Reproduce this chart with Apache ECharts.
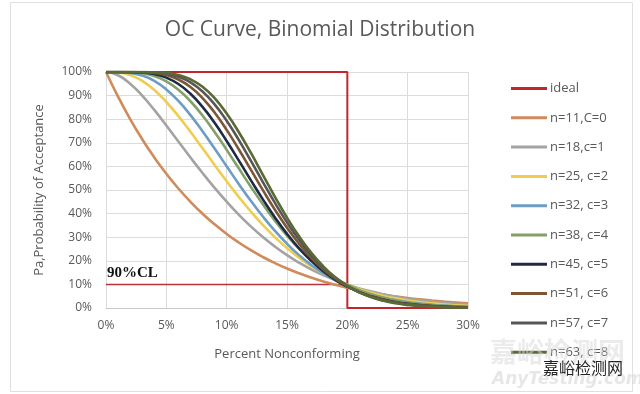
<!DOCTYPE html>
<html>
<head>
<meta charset="utf-8">
<script src="https://cdn.jsdelivr.net/npm/echarts@6/dist/echarts.min.js"></script>
<style>
html,body{margin:0;padding:0;background:#fff;}
#chart{width:640px;height:394px;}
</style>
</head>
<body>
<div id="chart"></div>
<script>
// Percent nonconforming (x, %)
var xs = [0,1,2,3,4,5,6,7,8,9,10,11,12,13,14,15,16,17,18,19,20,21,22,23,24,25,26,27,28,29,30];

// Ideal OC curve (step) and 90% CL line
var idealX = [0, 20, 20, 30];
var idealY = [100, 100, 0, 0];
var clX = [0, 20];
var clY = [10, 10];

// Probability of acceptance (%) for each plan
var n11c0 = [100,89.53,80.07,71.53,63.82,56.88,50.63,45.01,39.96,35.44,31.38,27.75,24.51,21.61,19.03,16.73,14.69,12.88,11.27,9.85,8.59,7.48,6.50,5.64,4.89,4.22,3.64,3.14,2.70,2.31,1.98];
var n18c1 = [100,98.62,95.05,89.97,83.93,77.35,70.55,63.77,57.19,50.91,45.03,39.58,34.60,30.08,26.03,22.40,19.20,16.38,13.91,11.76,9.91,8.31,6.94,5.77,4.78,3.95,3.24,2.65,2.16,1.76,1.42];
var n25c2 = [100,99.81,98.68,96.21,92.35,87.29,81.29,74.66,67.68,60.63,53.71,47.09,40.88,35.17,30.00,25.37,21.30,17.75,14.67,12.05,9.82,7.96,6.41,5.12,4.07,3.21,2.52,1.96,1.52,1.17,0.90];
var n32c3 = [100,99.97,99.63,98.51,96.23,92.62,87.72,81.71,74.89,67.56,60.03,52.58,45.44,38.77,32.67,27.21,22.41,18.27,14.73,11.77,9.31,7.30,5.67,4.36,3.33,2.52,1.89,1.40,1.03,0.76,0.55];
var n38c4 = [100,100,99.91,99.47,98.29,96.03,92.48,87.61,81.56,74.58,67.01,59.18,51.40,43.94,36.99,30.68,25.09,20.25,16.13,12.69,9.86,7.57,5.75,4.31,3.20,2.35,1.71,1.23,0.87,0.62,0.43];
var n45c5 = [100,100,99.97,99.78,99.13,97.61,94.90,90.77,85.24,78.48,70.77,62.55,54.18,46.03,38.37,31.42,25.28,20.01,15.58,11.94,9.02,6.71,4.93,3.57,2.55,1.79,1.25,0.86,0.58,0.39,0.26];
var n51c6 = [100,100,99.99,99.92,99.60,98.69,96.82,93.64,88.96,82.82,75.48,67.26,58.60,49.93,41.64,34.00,27.21,21.35,16.44,12.43,9.23,6.74,4.84,3.42,2.38,1.63,1.10,0.73,0.48,0.31,0.20];
var n57c7 = [100,100,100,99.97,99.81,99.28,98.00,95.58,91.71,86.26,79.34,71.25,62.43,53.37,44.53,36.28,28.88,22.48,17.13,12.78,9.34,6.69,4.71,3.25,2.20,1.47,0.96,0.62,0.39,0.24,0.15];
var n63c8 = [100,100,100,99.99,99.91,99.60,98.74,96.93,93.75,88.96,82.39,74.60,65.79,56.44,47.12,38.32,30.36,23.45,17.68,13.02,9.37,6.59,4.54,3.06,2.02,1.31,0.83,0.52,0.32,0.19,0.11];

var planNames = ['n=11,C=0','n=18,c=1','n=25, c=2','n=32, c=3','n=38, c=4','n=45, c=5','n=51, c=6','n=57, c=7','n=63, c=8'];
var planValues = [n11c0,n18c1,n25c2,n32c3,n38c4,n45c5,n51c6,n57c7,n63c8];
var planColors = ['#d08b5b','#a3a3a3','#f0cd4e','#6d9dc2','#83a068','#1f2b46','#7e5634','#565656','#5a6a34'];

function pairs(xa, ya){ return xa.map(function(x,i){ return [x, ya[i]]; }); }

var series = [{
  name: 'ideal', type: 'line', data: pairs(idealX, idealY),
  symbol: 'none', lineStyle: {color: '#c0262d', width: 2}, itemStyle: {color: '#c0262d'},
  z: 1, animation: false
},{
  name: '90%CL', type: 'line', data: pairs(clX, clY),
  symbol: 'none', lineStyle: {color: '#b5343a', width: 1.5}, z: 1, animation: false
}];
planNames.forEach(function(nm, k){
  series.push({
    name: nm, type: 'line', data: pairs(xs, planValues[k]),
    symbol: 'none', smooth: true,
    lineStyle: {color: planColors[k], width: 2.6}, itemStyle: {color: planColors[k]},
    z: 2 + k, animation: false
  });
});

var chart = echarts.init(document.getElementById('chart'), null, {renderer: 'canvas'});
chart.setOption({
  backgroundColor: '#ffffff',
  animation: false,
  title: {
    text: 'OC Curve, Binomial Distribution', left: 'center', top: 15,
    textStyle: {fontFamily: 'Open Sans', fontSize: 21, fontWeight: 'normal', color: '#595959'}
  },
  legend: {
    orient: 'vertical', left: 506, top: 77,
    data: ['ideal'].concat(planNames),
    icon: 'rect', itemWidth: 36, itemHeight: 3, itemGap: 16.3,
    textStyle: {fontFamily: 'Open Sans', fontSize: 13, color: '#595959', lineHeight: 12, height: 12, padding: [0, 0, 0, -2]}
  },
  grid: {left: 106, right: 172, top: 72, bottom: 86},
  xAxis: {
    type: 'value', min: 0, max: 30, interval: 5,
    name: 'Percent Nonconforming', nameLocation: 'middle', nameGap: 40,
    nameTextStyle: {fontFamily: 'Open Sans', fontSize: 13, color: '#595959'},
    axisLine: {show: true, lineStyle: {color: '#c8c8c8'}},
    axisTick: {show: false},
    axisLabel: {formatter: '{value}%', fontFamily: 'Open Sans', fontSize: 12, color: '#595959', margin: 12},
    splitLine: {show: true, lineStyle: {color: '#dcdcdc'}}
  },
  yAxis: {
    type: 'value', min: 0, max: 100, interval: 10,
    name: 'Pa,Probability of Acceptance', nameLocation: 'middle', nameGap: 60, nameRotate: 90,
    nameTextStyle: {fontFamily: 'Open Sans', fontSize: 13, color: '#595959'},
    axisLine: {show: true, lineStyle: {color: '#dcdcdc'}},
    axisTick: {show: false},
    axisLabel: {formatter: '{value}%', fontFamily: 'Open Sans', fontSize: 12, color: '#595959', margin: 14},
    splitLine: {show: true, lineStyle: {color: '#dcdcdc'}}
  },
  graphic: [
    {type: 'rect', silent: true, z: -1, shape: {x: 10.5, y: 2.5, width: 622, height: 389},
     style: {fill: 'none', stroke: '#e0e0e0', lineWidth: 1}},
    {type: 'text', left: 107, top: 266, z: 50,
     style: {text: '90%CL', font: 'bold 15px "Liberation Serif"', fill: '#111111'}},
    {type: 'text', left: 490, top: 338, z: 60,
     style: {text: '嘉峪检测网', font: 'bold 27px "Noto Sans CJK SC"', fill: 'rgba(215,215,215,0.5)'}},
    {type: 'text', left: 492, top: 371, z: 60,
     style: {text: 'AnyTesting.com', font: 'italic bold 17px "DejaVu Sans"', fill: 'rgba(215,215,215,0.6)'}},
    {type: 'text', left: 543, top: 360, z: 61,
     style: {text: '嘉峪检测网', font: '16px "Noto Sans CJK SC"', fill: '#222222'}}
  ],
  series: series
});
</script>
</body>
</html>
